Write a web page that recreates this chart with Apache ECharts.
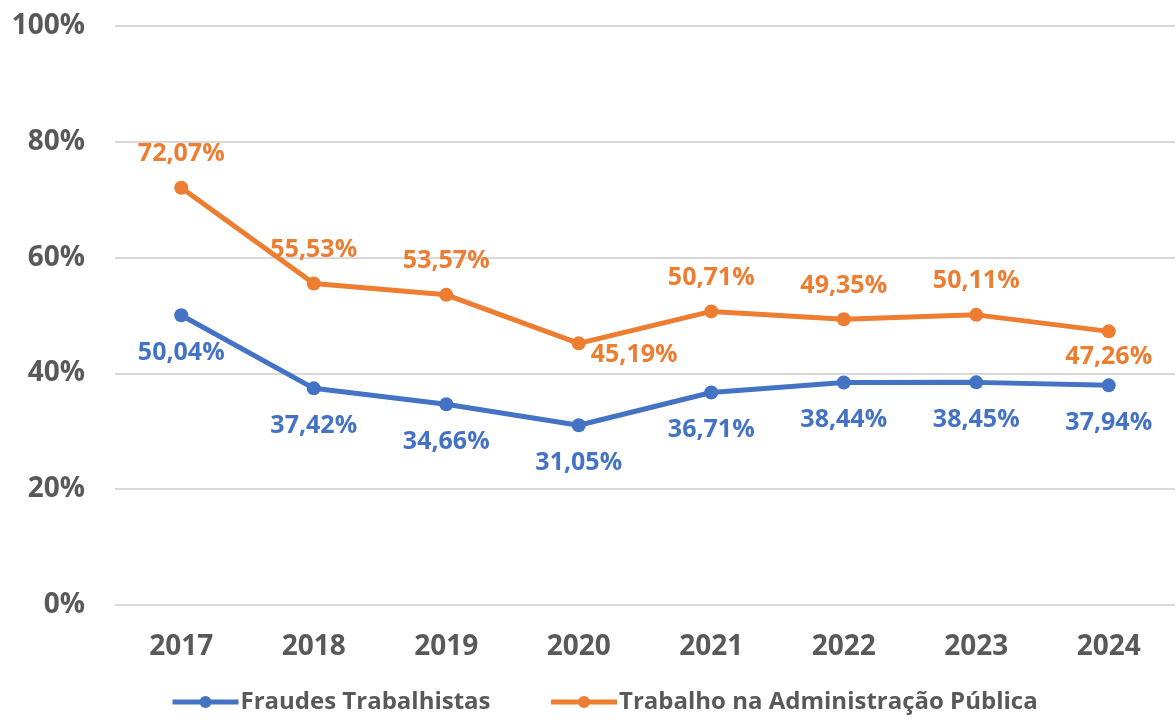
<!DOCTYPE html>
<html><head><meta charset="utf-8">
<script src="https://cdn.jsdelivr.net/npm/echarts@6/dist/echarts.min.js"></script>
<style>html,body{margin:0;padding:0;background:#fff}#c{width:1176px;height:721px}</style>
</head><body><div id="c"></div>
<script>
const categories = ['2017','2018','2019','2020','2021','2022','2023','2024'];
const fraudes = [50.04, 37.42, 34.66, 31.05, 36.71, 38.44, 38.45, 37.94];
const adminPublica = [72.07, 55.53, 53.57, 45.19, 50.71, 49.35, 50.11, 47.26];
const seriesNames = ['Fraudes Trabalhistas', 'Trabalho na Administração Pública'];

const FONT = 'Open Sans';
const GREY = '#595959';
const BLUE = '#4472C4';
const ORANGE = '#ED7D31';
const fmt = v => v.toFixed(2).replace('.', ',') + '%';

function labelFor(name, i) {
  if (name === 'blue') return { position: 'bottom', distance: 18 };
  if (i === 3) return { position: 'right', distance: 5, offset: [0, 12] };
  if (i === 7) return { position: 'bottom', distance: 6 };
  return { position: 'top', distance: 14 };
}
function build(arr, name) {
  return arr.map((v, i) => ({ value: v, label: labelFor(name, i) }));
}

const chart = echarts.init(document.getElementById('c'));
chart.setOption({
  animation: false,
  grid: { left: 115, right: 1, top: 26, bottom: 116 },
  xAxis: {
    type: 'category', data: categories, boundaryGap: true,
    axisLine: { show: false }, axisTick: { show: false },
    axisLabel: { color: GREY, fontFamily: FONT, fontWeight: 'bold', fontSize: 28, margin: 28 }
  },
  yAxis: {
    type: 'value', min: 0, max: 100, interval: 20,
    axisLine: { show: false }, axisTick: { show: false },
    axisLabel: { color: GREY, fontFamily: FONT, fontWeight: 'bold', fontSize: 28, margin: 30, formatter: '{value}%' },
    splitLine: { lineStyle: { color: '#D9D9D9', width: 2 } }
  },
  legend: {
    bottom: 2, left: 165, itemWidth: 66, itemHeight: 15, itemGap: 58,
    lineStyle: { width: 5 },
    textStyle: { color: GREY, fontFamily: FONT, fontWeight: 'bold', fontSize: 24, padding: [0, 0, 0, -3] },
    data: seriesNames
  },
  series: [
    {
      name: seriesNames[0], type: 'line', data: build(fraudes, 'blue'),
      color: BLUE, symbol: 'circle', symbolSize: 14, lineStyle: { width: 5, color: BLUE },
      itemStyle: { color: BLUE },
      label: { show: true, color: BLUE, fontFamily: FONT, fontWeight: 'bold', fontSize: 25, formatter: p => fmt(p.value) }
    },
    {
      name: seriesNames[1], type: 'line', data: build(adminPublica, 'orange'),
      color: ORANGE, symbol: 'circle', symbolSize: 14, lineStyle: { width: 5, color: ORANGE },
      itemStyle: { color: ORANGE },
      label: { show: true, color: ORANGE, fontFamily: FONT, fontWeight: 'bold', fontSize: 25, formatter: p => fmt(p.value) }
    }
  ]
});
</script></body></html>
